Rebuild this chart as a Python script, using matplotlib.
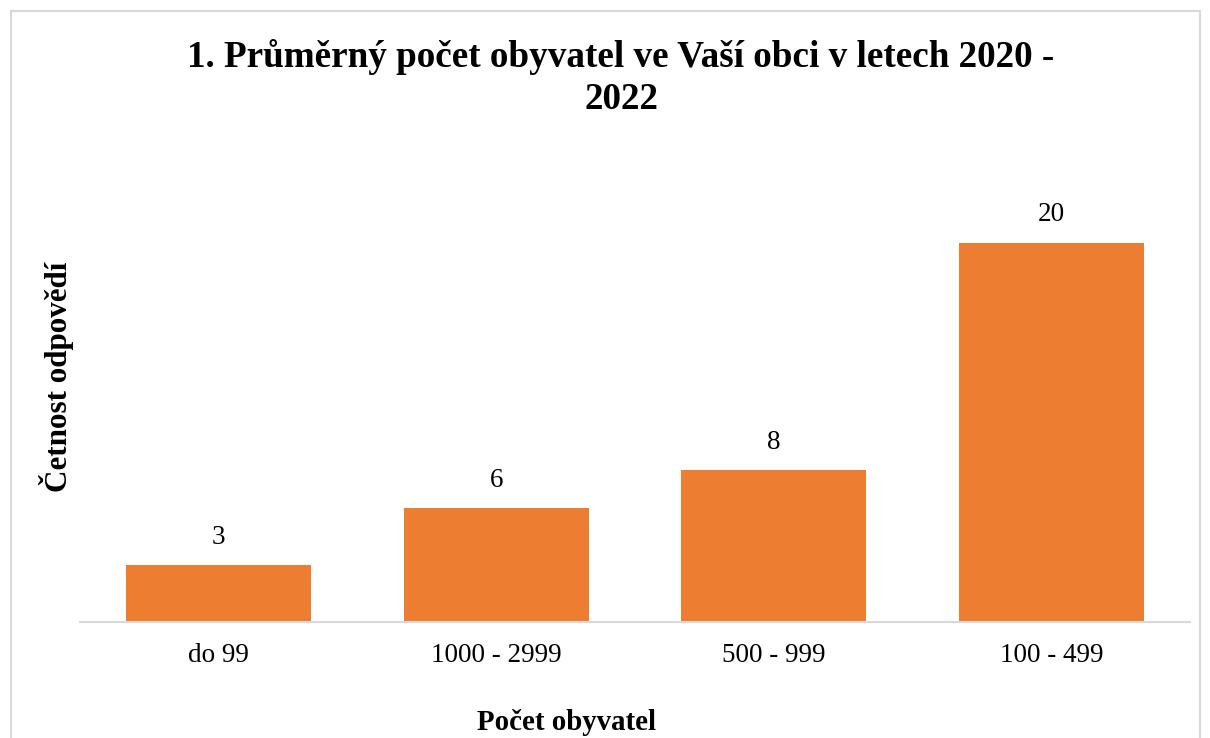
import matplotlib.pyplot as plt
from matplotlib.patches import Rectangle

plt.rcParams['font.family'] = ['Liberation Serif', 'DejaVu Serif']

# data
kategorie = ['do 99', '1000 - 2999', '500 - 999', '100 - 499']
cetnost = [3, 6, 8, 20]

fig = plt.figure(figsize=(12.1, 7.38), dpi=100)
ax = fig.add_axes([80 / 1210, 1 - 622 / 738, 1110 / 1210, (622 - 180) / 738])

bars = ax.bar(kategorie, cetnost, width=0.667, color='#ED7D31')
ax.bar_label(bars, labels=[str(v) for v in cetnost], padding=11, fontsize=19.5)

ax.set_xlim(-0.5, len(kategorie) - 0.5)
ax.set_ylim(0, 23.3)
ax.set_yticks([])
for s in ['top', 'right', 'left']:
    ax.spines[s].set_visible(False)
ax.spines['bottom'].set_color('#D9D9D9')
ax.spines['bottom'].set_linewidth(1.5)
ax.tick_params(axis='x', length=0, pad=15, labelsize=19.5)

# nadpis a popisky os
fig.text(621 / 1210, 1 - 78 / 738, '1. Průměrný počet obyvatel ve Vaší obci v letech 2020 -\n2022',
         ha='center', va='center', fontsize=26.7, fontweight='bold', linespacing=1.25)
fig.text(57 / 1210, 1 - 377 / 738, 'Četnost odpovědí', rotation=90, ha='center', va='center',
         fontsize=22.4, fontweight='bold')
fig.text(567 / 1210, 1 - 722 / 738, 'Počet obyvatel', ha='center', va='center',
         fontsize=20.8, fontweight='bold')

# rámeček grafu
fig.patches.append(Rectangle((11 / 1210, -0.1), 1189 / 1210, 1.1 - 11 / 738,
                             transform=fig.transFigure, fill=False,
                             edgecolor='#D9D9D9', linewidth=1.5))

plt.savefig('out.png', dpi=100)
